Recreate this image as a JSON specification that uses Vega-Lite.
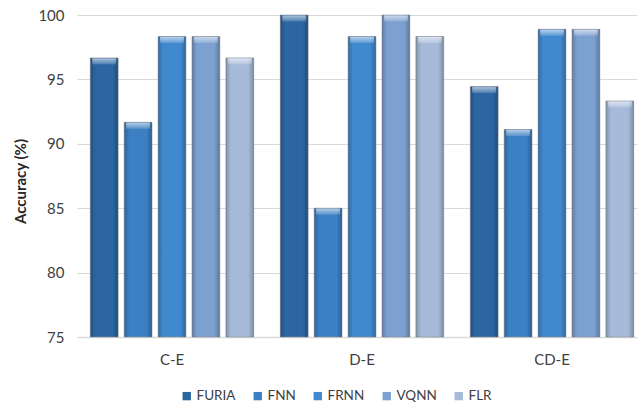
{
  "$schema": "https://vega.github.io/schema/vega-lite/v6.json",
  "width": 570,
  "height": 322,
  "autosize": {"type": "none"},
  "padding": {"left": 77, "top": 15, "right": 0, "bottom": 69},
  "background": "white",
  "config": {
    "font": "Lato",
    "view": {"stroke": null},
    "axis": {"labelFont": "Lato", "titleFont": "Lato", "labelColor": "#404040", "titleColor": "#262626"}
  },
  "data": {
    "values": [
      {"group": "C-E", "method": "FURIA", "accuracy": 96.67},
      {"group": "C-E", "method": "FNN", "accuracy": 91.67},
      {"group": "C-E", "method": "FRNN", "accuracy": 98.33},
      {"group": "C-E", "method": "VQNN", "accuracy": 98.33},
      {"group": "C-E", "method": "FLR", "accuracy": 96.67},
      {"group": "D-E", "method": "FURIA", "accuracy": 100},
      {"group": "D-E", "method": "FNN", "accuracy": 85.0},
      {"group": "D-E", "method": "FRNN", "accuracy": 98.33},
      {"group": "D-E", "method": "VQNN", "accuracy": 100},
      {"group": "D-E", "method": "FLR", "accuracy": 98.33},
      {"group": "CD-E", "method": "FURIA", "accuracy": 94.44},
      {"group": "CD-E", "method": "FNN", "accuracy": 91.11},
      {"group": "CD-E", "method": "FRNN", "accuracy": 98.89},
      {"group": "CD-E", "method": "VQNN", "accuracy": 98.89},
      {"group": "CD-E", "method": "FLR", "accuracy": 93.33}
    ]
  },
  "encoding": {
    "x": {
      "field": "group",
      "type": "nominal",
      "sort": ["C-E", "D-E", "CD-E"],
      "scale": {"paddingInner": 0.14, "paddingOuter": 0.07},
      "axis": {
        "title": null,
        "labelAngle": 0,
        "labelFontSize": 15,
        "labelPadding": 15,
        "ticks": false,
        "domainColor": "#d9d9d9",
        "domainWidth": 1.5
      }
    },
    "xOffset": {
      "field": "method",
      "type": "nominal",
      "sort": ["FURIA", "FNN", "FRNN", "VQNN", "FLR"],
      "scale": {"paddingInner": 0.18, "paddingOuter": 0}
    },
    "y": {
      "field": "accuracy",
      "type": "quantitative",
      "scale": {"domain": [75, 100], "zero": false, "nice": false},
      "axis": {
        "title": "Accuracy (%)",
        "values": [75, 80, 85, 90, 95, 100],
        "labelFontSize": 15,
        "labelPadding": 13,
        "ticks": false,
        "domain": false,
        "gridColor": "#d9d9d9",
        "gridWidth": 1.2,
        "titleFontSize": 15,
        "titleFontWeight": "bold",
        "titleAngle": -90,
        "titleX": -57,
        "titleY": 166,
        "titleAlign": "center",
        "titleBaseline": "middle"
      }
    }
  },
  "layer": [
    {
      "mark": {"type": "bar", "stroke": "#8a8f96", "strokeWidth": 1, "strokeOpacity": 0.6},
      "encoding": {
        "y2": {"datum": 75},
        "color": {
          "field": "method",
          "type": "nominal",
          "scale": {
            "domain": ["FURIA", "FNN", "FRNN", "VQNN", "FLR"],
            "range": ["#2c66a2", "#3b80c3", "#4189cf", "#7ca0d0", "#a6bbda"]
          },
          "legend": {
            "title": null,
            "orient": "none",
            "direction": "horizontal",
            "legendX": 103,
            "legendY": 374,
            "symbolType": "square",
            "symbolSize": 70,
            "symbolStrokeWidth": 0,
            "labelFontSize": 13.5,
            "labelColor": "#404040",
            "labelOffset": 3,
            "columnPadding": 15
          }
        }
      }
    },
    {
      "mark": {
        "type": "bar",
        "fill": {
          "gradient": "linear",
          "x1": 0, "x2": 1, "y1": 0, "y2": 0,
          "stops": [
            {"offset": 0, "color": "rgba(0,0,0,0.22)"},
            {"offset": 0.18, "color": "rgba(0,0,0,0)"},
            {"offset": 0.8, "color": "rgba(0,0,0,0)"},
            {"offset": 1, "color": "rgba(0,0,0,0.25)"}
          ]
        }
      },
      "encoding": {"y2": {"datum": 75}}
    },
    {
      "mark": {
        "type": "tick",
        "orient": "horizontal",
        "thickness": 6,
        "size": 24,
        "yOffset": 3.5,
        "fill": {
          "gradient": "linear",
          "x1": 0, "x2": 0, "y1": 0, "y2": 1,
          "stops": [
            {"offset": 0, "color": "rgba(255,255,255,0.6)"},
            {"offset": 1, "color": "rgba(255,255,255,0.15)"}
          ]
        },
        "opacity": 1
      },
      "encoding": {}
    }
  ]
}
